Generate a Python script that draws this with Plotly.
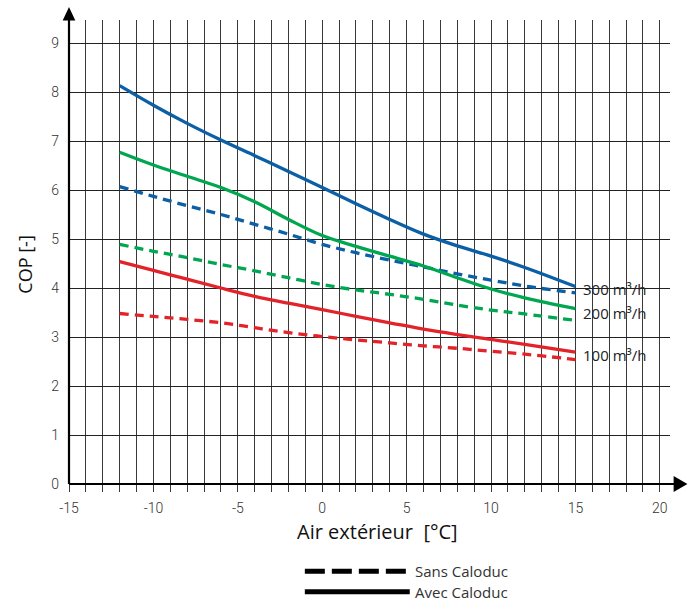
import plotly.graph_objects as go

# ---- data ----
temps = [-12, -10, -8, -6, -4, -2, 0, 2, 4, 6, 8, 10, 12, 15]

cop_300_avec = [8.13, 7.73, 7.36, 7.02, 6.70, 6.38, 6.05, 5.72, 5.40, 5.10, 4.86, 4.65, 4.42, 4.03]
cop_300_sans = [6.07, 5.87, 5.68, 5.50, 5.30, 5.10, 4.89, 4.72, 4.57, 4.43, 4.29, 4.16, 4.04, 3.90]
cop_200_avec = [6.77, 6.51, 6.28, 6.05, 5.76, 5.40, 5.07, 4.85, 4.65, 4.45, 4.21, 3.98, 3.80, 3.58]
cop_200_sans = [4.89, 4.75, 4.62, 4.48, 4.35, 4.21, 4.07, 3.96, 3.87, 3.77, 3.65, 3.55, 3.47, 3.34]
cop_100_avec = [4.54, 4.36, 4.18, 4.00, 3.83, 3.69, 3.56, 3.42, 3.29, 3.16, 3.05, 2.95, 2.85, 2.69]
cop_100_sans = [3.48, 3.42, 3.36, 3.29, 3.19, 3.09, 3.01, 2.94, 2.88, 2.82, 2.77, 2.71, 2.65, 2.54]

flow_labels = ["300 m³/h", "200 m³/h", "100 m³/h"]
flow_label_y = [3.98, 3.49, 2.63]

x_ticks = [-15, -10, -5, 0, 5, 10, 15, 20]
y_ticks = [0, 1, 2, 3, 4, 5, 6, 7, 8, 9]

legend_labels = ["Sans Caloduc", "Avec Caloduc"]

BLUE = "#0a5fa6"
GREEN = "#00a650"
RED = "#e3232a"

fig = go.Figure()

series = [
    (cop_300_avec, BLUE, "solid"),
    (cop_300_sans, BLUE, "9px,6px"),
    (cop_200_avec, GREEN, "solid"),
    (cop_200_sans, GREEN, "9px,6px"),
    (cop_100_avec, RED, "solid"),
    (cop_100_sans, RED, "9px,6px"),
]
for vals, col, dash in series:
    fig.add_trace(go.Scatter(
        x=temps, y=vals, mode="lines",
        line=dict(color=col, width=3.3, dash=dash, shape="spline", smoothing=1.0),
        showlegend=False, hoverinfo="skip"))

tick_font = dict(family="Roboto", size=14, color="#333333", weight=300)
TXT = "Open Sans"

fig.update_layout(
    width=688, height=602,
    margin=dict(l=69.3, r=18.1, t=20, b=118, autoexpand=False),
    paper_bgcolor="white", plot_bgcolor="white",
    showlegend=False,
)

fig.update_xaxes(
    range=[-15, 20.6],
    tickvals=x_ticks, ticktext=[str(v) for v in x_ticks],
    tickfont=tick_font,
    showgrid=True, gridcolor="#3a3a3a", gridwidth=1,
    ticks="outside", ticklen=7, tickcolor="#3a3a3a", tickwidth=1,
    minor=dict(dtick=1, tick0=0, showgrid=True, gridcolor="#3a3a3a", gridwidth=1,
               ticks="outside", ticklen=7, tickcolor="#3a3a3a", tickwidth=1),
    showline=False, zeroline=False,
    ticklabelstandoff=4,
)
fig.update_yaxes(
    range=[0, 9.47],
    tickvals=y_ticks, ticktext=[str(v) for v in y_ticks],
    tickfont=tick_font,
    showgrid=True, gridcolor="#222222", gridwidth=1,
    ticks="", showline=False, zeroline=False,
    ticklabelstandoff=9,
)

# axes with arrows (paper coords)
fig.add_shape(type="line", xref="paper", yref="paper", x0=0, x1=1.012, y0=0, y1=0,
              line=dict(color="black", width=2.2))
fig.add_shape(type="line", xref="paper", yref="paper", x0=0, x1=0, y0=0, y1=1.0,
              line=dict(color="black", width=2.2))
fig.add_shape(type="path", xref="paper", yref="paper",
              path="M 1.006,0.0172 L 1.029,0 L 1.006,-0.0172 Z",
              fillcolor="black", line=dict(color="black", width=0))
fig.add_shape(type="path", xref="paper", yref="paper",
              path="M -0.0105,0.999 L 0,1.028 L 0.0105,0.999 Z",
              fillcolor="black", line=dict(color="black", width=0))

# curve labels
for lab, yv in zip(flow_labels, flow_label_y):
    fig.add_annotation(x=15.35, y=yv, xref="x", yref="y", text=lab, showarrow=False,
                       xanchor="left", yanchor="middle",
                       font=dict(family=TXT, size=15, color="#222222"))

# axis titles
fig.add_annotation(x=0.514, y=-0.1034, xref="paper", yref="paper",
                   text="Air extérieur\u00a0 [°C]", showarrow=False,
                   xanchor="center", yanchor="middle",
                   font=dict(family=TXT, size=20, color="#111111"))
fig.add_annotation(x=-0.0738, y=0.472, xref="paper", yref="paper",
                   text="COP [-]", showarrow=False, textangle=-90,
                   xanchor="center", yanchor="middle",
                   font=dict(family=TXT, size=18, color="#111111"))

# custom legend
leg_y = [-0.1880, -0.2320]
leg_dash = ["20px,7px", "solid"]
for lab, yv, dsh in zip(legend_labels, leg_y, leg_dash):
    fig.add_shape(type="line", xref="paper", yref="paper", x0=0.3924, x1=0.5670, y0=yv, y1=yv,
                  line=dict(color="black", width=5, dash=dsh))
    fig.add_annotation(x=0.5739, y=yv, xref="paper", yref="paper", text=lab, showarrow=False,
                       xanchor="left", yanchor="middle", borderpad=0,
                       font=dict(family=TXT, size=15, color="#333333"))

fig.write_html("out.html", config={"displayModeBar": False},
               post_script="document.body.style.margin='0';document.body.style.padding='0';")
